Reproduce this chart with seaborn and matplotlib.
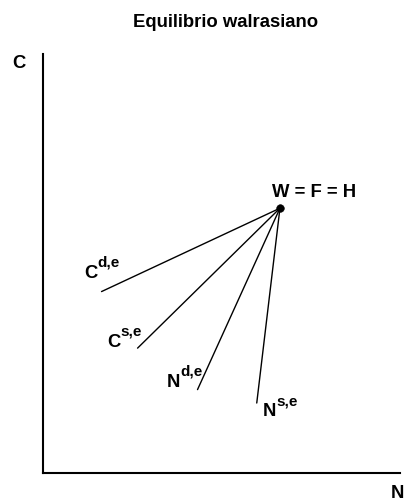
import matplotlib
matplotlib.use("Agg")
import matplotlib.pyplot as plt
import seaborn as sns
import pandas as pd

# Walrasian equilibrium point
eq_label = "W = F = H"
eq_x = 6.64
eq_y = 6.32

# Schedules through the equilibrium: name and far endpoint
curve_names = ["C^{d,e}", "C^{s,e}", "N^{d,e}", "N^{s,e}"]
curve_base = ["C", "C", "N", "N"]
curve_sup = ["d,e", "s,e", "d,e", "s,e"]
end_x = [1.64, 2.65, 4.33, 5.99]
end_y = [4.33, 2.98, 1.99, 1.67]

title = "Equilibrio walrasiano"
x_name = "N"
y_name = "C"

sns.set_style("white")
plt.rcParams["font.family"] = ["Liberation Sans", "DejaVu Sans"]
plt.rcParams["text.color"] = "black"

fig = plt.figure(figsize=(4.08, 5.02), dpi=100)
ax = fig.add_axes([0.1054, 0.0558, 0.8746, 0.8346])

rows = []
for name, ex, ey in zip(curve_names, end_x, end_y):
    rows.append({"curve": name, "N": eq_x, "C": eq_y})
    rows.append({"curve": name, "N": ex, "C": ey})
df = pd.DataFrame(rows)

sns.lineplot(data=df, x="N", y="C", units="curve", estimator=None,
             color="black", linewidth=1.0, ax=ax, legend=False)
sns.scatterplot(x=[eq_x], y=[eq_y], color="black", s=30, edgecolor="black",
                zorder=5, ax=ax, legend=False)

ax.set_xlim(0, 10)
ax.set_ylim(0, 10)
ax.set_xticks([])
ax.set_yticks([])
ax.set_xlabel("")
ax.set_ylabel("")
for side in ["top", "right"]:
    ax.spines[side].set_visible(False)
for side in ["left", "bottom"]:
    ax.spines[side].set_color("black")
    ax.spines[side].set_linewidth(1.5)

fs = 13.3
fs_sup = 11
# label offsets (pixels) relative to each endpoint
offsets = [(-17.7, 14.7), (-30.7, 2.3), (-30.7, 3.7), (6.3, -12.0)]
for base, sup, ex, ey, (ox, oy) in zip(curve_base, curve_sup, end_x, end_y, offsets):
    ax.annotate(base, xy=(ex, ey), xytext=(ox, oy), textcoords="offset pixels",
                ha="left", va="baseline", fontsize=fs, fontweight="bold",
                color="black")
    ax.annotate(sup, xy=(ex, ey), xytext=(ox + 13.5, oy + 11),
                textcoords="offset pixels", ha="left", va="baseline",
                fontsize=fs_sup, fontweight="bold", color="black")

ax.annotate(eq_label, xy=(eq_x, eq_y), xytext=(-8, 12.3),
            textcoords="offset pixels", ha="left", va="baseline",
            fontsize=fs, fontweight="bold", color="black")

fig.text(226 / 408, 1 - 27 / 502, title, ha="center", va="baseline",
         fontsize=13.3, fontweight="bold", color="black")
fig.text(19 / 408, 1 - 68 / 502, y_name, ha="center", va="baseline",
         fontsize=fs, fontweight="bold", color="black")
fig.text(397 / 408, 1 - 498 / 502, x_name, ha="center", va="baseline",
         fontsize=fs, fontweight="bold", color="black")

fig.savefig("out.png", dpi=100, facecolor="white")
